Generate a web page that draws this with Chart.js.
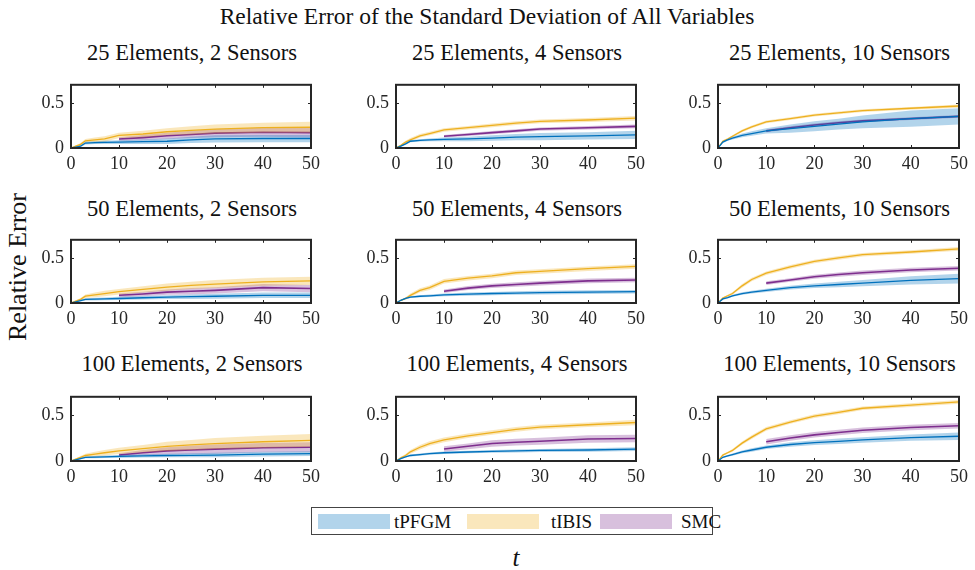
<!DOCTYPE html>
<html>
<head>
<meta charset="utf-8">
<script src="https://cdn.jsdelivr.net/npm/chart.js@4"></script>
<style>
  body { margin: 0; background: #fff; }
  #fig { position: relative; width: 975px; height: 570px; font-family: 'Liberation Serif', serif; color: #111; }
  .txt { position: absolute; white-space: nowrap; line-height: 1; transform: translate(-50%, -50%); }
  #fig canvas { position: absolute; }
  #legend { position: absolute; left: 311px; top: 507px; width: 400px; height: 26px; border: 1px solid #444; background: #fff; font-size: 19px; }
  .patch { position: absolute; top: 6px; width: 72px; height: 15px; }
  .ltext { position: absolute; top: 4px; line-height: 1; }
</style>
</head>
<body>
<div id="fig">
  <div class="txt" style="left:487px; top:17px; font-size:23.5px;">Relative Error of the Standard Deviation of All Variables</div>
  <div class="txt" style="left:18px; top:267px; font-size:26px; transform:translate(-50%,-50%) rotate(-90deg);">Relative Error</div>
  <div class="txt" style="left:516px; top:557px; font-size:25px; font-style:italic;">t</div>
  <div id="legend">
    <div class="patch" style="left:6px; background:rgba(0,114,189,0.3);"></div>
    <div class="ltext" style="left:82px;">tPFGM</div>
    <div class="patch" style="left:155px; background:rgba(237,177,32,0.3);"></div>
    <div class="ltext" style="left:239px;">tIBIS</div>
    <div class="patch" style="left:288px; background:rgba(126,47,142,0.3);"></div>
    <div class="ltext" style="left:369px;">SMC</div>
  </div>
</div>
<script>
const elementCounts = [25, 50, 100];
const sensorCounts = [2, 4, 10];
const timeSteps = [0, 1, 2, 3, 5, 7, 10, 15, 20, 25, 30, 40, 50];
const xTicks = [0, 10, 20, 30, 40, 50];
const yTicks = [0, 0.5];
const _ = null;

// mean relative error and half-width of the shaded band, per method and case
const tpfgm25e2s     = [0, 0.01, 0.02, 0.055, 0.06, 0.062, 0.065, 0.07, 0.075, 0.09, 0.10, 0.105, 0.105];
const tpfgm25e2sBand = [0, 0.005, 0.01, 0.015, 0.015, 0.018, 0.02, 0.025, 0.03, 0.035, 0.04, 0.04, 0.04];
const tibis25e2s     = [0, 0.02, 0.04, 0.08, 0.09, 0.10, 0.14, 0.155, 0.18, 0.195, 0.21, 0.225, 0.23];
const tibis25e2sBand = [0, 0.01, 0.015, 0.02, 0.025, 0.03, 0.03, 0.035, 0.04, 0.045, 0.05, 0.055, 0.06];
const smc25e2s       = [_, _, _, _, _, _, 0.10, 0.115, 0.135, 0.15, 0.165, 0.175, 0.17];
const smc25e2sBand   = [_, _, _, _, _, _, 0.02, 0.03, 0.035, 0.04, 0.045, 0.05, 0.055];

const tpfgm25e4s     = [0, 0.02, 0.045, 0.075, 0.085, 0.09, 0.095, 0.10, 0.11, 0.12, 0.125, 0.135, 0.145];
const tpfgm25e4sBand = [0, 0.005, 0.008, 0.01, 0.012, 0.015, 0.02, 0.025, 0.03, 0.035, 0.04, 0.04, 0.045];
const tibis25e4s     = [0, 0.03, 0.065, 0.09, 0.135, 0.16, 0.20, 0.225, 0.25, 0.275, 0.295, 0.31, 0.33];
const tibis25e4sBand = [0, 0.01, 0.015, 0.02, 0.02, 0.02, 0.02, 0.02, 0.02, 0.02, 0.02, 0.022, 0.025];
const smc25e4s       = [_, _, _, _, _, _, 0.13, 0.15, 0.17, 0.19, 0.21, 0.225, 0.24];
const smc25e4sBand   = [_, _, _, _, _, _, 0.015, 0.016, 0.017, 0.018, 0.018, 0.019, 0.02];

const tpfgm25e10s     = [0, 0.065, 0.09, 0.11, 0.14, 0.16, 0.19, 0.215, 0.24, 0.265, 0.29, 0.325, 0.35];
const tpfgm25e10sBand = [0, 0.01, 0.01, 0.015, 0.02, 0.025, 0.03, 0.045, 0.055, 0.06, 0.07, 0.09, 0.09];
const tibis25e10s     = [0, 0.075, 0.10, 0.13, 0.19, 0.235, 0.29, 0.325, 0.365, 0.39, 0.415, 0.44, 0.465];
const tibis25e10sBand = [0, 0.01, 0.01, 0.012, 0.015, 0.015, 0.015, 0.015, 0.015, 0.015, 0.015, 0.015, 0.018];
const smc25e10s       = [_, _, _, _, _, _, 0.19, 0.225, 0.255, 0.28, 0.30, 0.325, 0.35];
const smc25e10sBand   = [_, _, _, _, _, _, 0.015, 0.015, 0.015, 0.015, 0.015, 0.015, 0.015];

const tpfgm50e2s     = [0, 0.012, 0.025, 0.04, 0.043, 0.046, 0.05, 0.058, 0.065, 0.07, 0.075, 0.085, 0.085];
const tpfgm50e2sBand = [0, 0.004, 0.008, 0.012, 0.014, 0.016, 0.018, 0.02, 0.022, 0.025, 0.028, 0.03, 0.03];
const tibis50e2s     = [0, 0.02, 0.04, 0.075, 0.09, 0.105, 0.125, 0.15, 0.175, 0.195, 0.21, 0.235, 0.245];
const tibis50e2sBand = [0, 0.01, 0.015, 0.02, 0.025, 0.03, 0.03, 0.035, 0.04, 0.04, 0.045, 0.045, 0.045];
const smc50e2s       = [_, _, _, _, _, _, 0.085, 0.10, 0.12, 0.13, 0.14, 0.17, 0.16];
const smc50e2sBand   = [_, _, _, _, _, _, 0.02, 0.025, 0.03, 0.035, 0.035, 0.04, 0.04];

const tpfgm50e4s     = [0, 0.03, 0.05, 0.065, 0.075, 0.08, 0.09, 0.098, 0.105, 0.11, 0.115, 0.12, 0.125];
const tpfgm50e4sBand = [0, 0.005, 0.008, 0.01, 0.012, 0.014, 0.015, 0.017, 0.018, 0.019, 0.02, 0.02, 0.02];
const tibis50e4s     = [0, 0.03, 0.05, 0.085, 0.14, 0.17, 0.24, 0.275, 0.30, 0.335, 0.35, 0.38, 0.405];
const tibis50e4sBand = [0, 0.01, 0.015, 0.02, 0.022, 0.025, 0.025, 0.025, 0.025, 0.025, 0.025, 0.025, 0.025];
const smc50e4s       = [_, _, _, _, _, _, 0.13, 0.165, 0.19, 0.205, 0.22, 0.245, 0.255];
const smc50e4sBand   = [_, _, _, _, _, _, 0.02, 0.022, 0.024, 0.025, 0.025, 0.025, 0.025];

const tpfgm50e10s     = [0, 0.045, 0.06, 0.08, 0.105, 0.12, 0.14, 0.17, 0.19, 0.205, 0.22, 0.25, 0.27];
const tpfgm50e10sBand = [0, 0.008, 0.01, 0.012, 0.015, 0.015, 0.018, 0.02, 0.025, 0.03, 0.035, 0.045, 0.055];
const tibis50e10s     = [0, 0.055, 0.08, 0.105, 0.19, 0.26, 0.33, 0.40, 0.46, 0.50, 0.535, 0.565, 0.60];
const tibis50e10sBand = [0, 0.01, 0.012, 0.015, 0.02, 0.02, 0.02, 0.02, 0.02, 0.02, 0.02, 0.02, 0.02];
const smc50e10s       = [_, _, _, _, _, _, 0.22, 0.255, 0.29, 0.315, 0.335, 0.365, 0.385];
const smc50e10sBand   = [_, _, _, _, _, _, 0.02, 0.02, 0.022, 0.024, 0.025, 0.025, 0.025];

const tpfgm100e2s     = [0, 0.013, 0.027, 0.04, 0.043, 0.046, 0.05, 0.055, 0.06, 0.062, 0.065, 0.075, 0.08];
const tpfgm100e2sBand = [0, 0.005, 0.008, 0.01, 0.012, 0.014, 0.016, 0.018, 0.02, 0.022, 0.024, 0.025, 0.025];
const tibis100e2s     = [0, 0.02, 0.04, 0.06, 0.075, 0.09, 0.11, 0.135, 0.16, 0.175, 0.19, 0.21, 0.225];
const tibis100e2sBand = [0, 0.01, 0.015, 0.02, 0.025, 0.03, 0.035, 0.04, 0.05, 0.055, 0.06, 0.065, 0.07];
const smc100e2s       = [_, _, _, _, _, _, 0.065, 0.09, 0.11, 0.12, 0.13, 0.145, 0.15];
const smc100e2sBand   = [_, _, _, _, _, _, 0.02, 0.03, 0.04, 0.045, 0.05, 0.05, 0.055];

const tpfgm100e4s     = [0, 0.025, 0.045, 0.06, 0.07, 0.08, 0.09, 0.098, 0.105, 0.11, 0.115, 0.12, 0.13];
const tpfgm100e4sBand = [0, 0.005, 0.008, 0.01, 0.012, 0.012, 0.013, 0.014, 0.015, 0.016, 0.017, 0.018, 0.02];
const tibis100e4s     = [0, 0.035, 0.06, 0.10, 0.15, 0.19, 0.23, 0.275, 0.31, 0.345, 0.37, 0.395, 0.42];
const tibis100e4sBand = [0, 0.01, 0.015, 0.02, 0.025, 0.025, 0.025, 0.025, 0.025, 0.025, 0.025, 0.025, 0.03];
const smc100e4s       = [_, _, _, _, _, _, 0.13, 0.16, 0.19, 0.205, 0.215, 0.24, 0.245];
const smc100e4sBand   = [_, _, _, _, _, _, 0.03, 0.032, 0.035, 0.037, 0.038, 0.04, 0.04];

const tpfgm100e10s     = [0, 0.04, 0.055, 0.07, 0.10, 0.12, 0.15, 0.18, 0.20, 0.215, 0.23, 0.255, 0.27];
const tpfgm100e10sBand = [0, 0.008, 0.01, 0.012, 0.015, 0.018, 0.02, 0.025, 0.025, 0.03, 0.03, 0.035, 0.04];
const tibis100e10s     = [0, 0.065, 0.09, 0.115, 0.195, 0.26, 0.35, 0.425, 0.49, 0.53, 0.575, 0.61, 0.645];
const tibis100e10sBand = [0, 0.01, 0.012, 0.015, 0.018, 0.02, 0.02, 0.02, 0.02, 0.02, 0.02, 0.02, 0.02];
const smc100e10s       = [_, _, _, _, _, _, 0.21, 0.25, 0.285, 0.31, 0.335, 0.365, 0.385];
const smc100e10sBand   = [_, _, _, _, _, _, 0.03, 0.03, 0.03, 0.03, 0.03, 0.03, 0.03];

// row = element count, column = sensor count
const panelData = [
  [[tpfgm25e2s, tpfgm25e2sBand, tibis25e2s, tibis25e2sBand, smc25e2s, smc25e2sBand],
   [tpfgm25e4s, tpfgm25e4sBand, tibis25e4s, tibis25e4sBand, smc25e4s, smc25e4sBand],
   [tpfgm25e10s, tpfgm25e10sBand, tibis25e10s, tibis25e10sBand, smc25e10s, smc25e10sBand]],
  [[tpfgm50e2s, tpfgm50e2sBand, tibis50e2s, tibis50e2sBand, smc50e2s, smc50e2sBand],
   [tpfgm50e4s, tpfgm50e4sBand, tibis50e4s, tibis50e4sBand, smc50e4s, smc50e4sBand],
   [tpfgm50e10s, tpfgm50e10sBand, tibis50e10s, tibis50e10sBand, smc50e10s, smc50e10sBand]],
  [[tpfgm100e2s, tpfgm100e2sBand, tibis100e2s, tibis100e2sBand, smc100e2s, smc100e2sBand],
   [tpfgm100e4s, tpfgm100e4sBand, tibis100e4s, tibis100e4sBand, smc100e4s, smc100e4sBand],
   [tpfgm100e10s, tpfgm100e10sBand, tibis100e10s, tibis100e10sBand, smc100e10s, smc100e10sBand]]
];

const lineColors = ['#0072BD', '#EDB120', '#7E2F8E'];
const bandColors = ['rgba(0,114,189,0.3)', 'rgba(237,177,32,0.3)', 'rgba(126,47,142,0.3)'];

// plot-area edges of each column / row
const colLeft = [71, 396, 718];
const colRight = [313, 638, 961];
const rowTop = [71, 226, 383];
const rowBottom = [148, 303, 461];
const titleY = [53, 209, 364];

const yAxisW = 50, xAxisH = 26, padTop = 4, padRight = 12;
const fontFam = "'Liberation Serif', serif";

// box outline plus inward-pointing ticks on all four sides
const boxFrame = {
  id: 'boxFrame',
  afterDatasetsDraw(chart) {
    const { ctx, chartArea: a, scales: { x, y } } = chart;
    ctx.save();
    ctx.strokeStyle = '#262626';
    ctx.lineWidth = 1;
    ctx.beginPath();
    x.ticks.forEach(t => {
      const px = Math.round(x.getPixelForValue(t.value)) + 0.5;
      ctx.moveTo(px, a.bottom); ctx.lineTo(px, a.bottom - 3);
      ctx.moveTo(px, a.top); ctx.lineTo(px, a.top + 3);
    });
    y.ticks.forEach(t => {
      const py = Math.round(y.getPixelForValue(t.value)) + 0.5;
      ctx.moveTo(a.left, py); ctx.lineTo(a.left + 3, py);
      ctx.moveTo(a.right, py); ctx.lineTo(a.right - 3, py);
    });
    ctx.stroke();
    ctx.lineWidth = 2;
    ctx.strokeRect(a.left, a.top, a.right - a.left, a.bottom - a.top);
    ctx.restore();
  }
};

function seriesSets(mean, band, k) {
  const lo = timeSteps.map((t, i) => ({ x: t, y: mean[i] === null ? null : mean[i] - band[i] }));
  const hi = timeSteps.map((t, i) => ({ x: t, y: mean[i] === null ? null : mean[i] + band[i] }));
  const mid = timeSteps.map((t, i) => ({ x: t, y: mean[i] }));
  return [
    { data: lo, borderWidth: 0, pointRadius: 0, fill: false },
    { data: hi, borderWidth: 0, pointRadius: 0, fill: '-1', backgroundColor: bandColors[k] },
    { data: mid, borderColor: lineColors[k], borderWidth: k === 2 ? 1.6 : 1.3, pointRadius: 0, fill: false }
  ];
}

const fig = document.getElementById('fig');

elementCounts.forEach((ne, r) => {
  sensorCounts.forEach((ns, c) => {
    const d = panelData[r][c];
    const datasets = [
      ...seriesSets(d[0], d[1], 0),
      ...seriesSets(d[2], d[3], 1),
      ...seriesSets(d[4], d[5], 2)
    ];

    const title = document.createElement('div');
    title.className = 'txt';
    title.style.left = ((colLeft[c] + colRight[c]) / 2) + 'px';
    title.style.top = titleY[r] + 'px';
    title.style.fontSize = '22.5px';
    title.textContent = ne + ' Elements, ' + ns + ' Sensors';
    fig.appendChild(title);

    const cv = document.createElement('canvas');
    const w = colRight[c] - colLeft[c] + yAxisW + padRight;
    const h = rowBottom[r] - rowTop[r] + padTop + xAxisH;
    cv.width = w; cv.height = h;
    cv.style.left = (colLeft[c] - yAxisW) + 'px';
    cv.style.top = (rowTop[r] - padTop) + 'px';
    fig.appendChild(cv);

    new Chart(cv, {
      type: 'line',
      data: { datasets },
      plugins: [boxFrame],
      options: {
        responsive: false,
        animation: false,
        layout: { padding: { top: padTop, right: padRight, left: 0, bottom: 0 } },
        elements: { line: { tension: 0 } },
        plugins: { legend: { display: false }, tooltip: { enabled: false } },
        scales: {
          x: {
            type: 'linear',
            min: 0, max: 50,
            afterFit: s => { s.height = xAxisH; },
            afterBuildTicks: s => { s.ticks = xTicks.map(v => ({ value: v })); },
            grid: { display: false, drawTicks: false },
            border: { display: false },
            ticks: { color: '#262626', padding: 5, maxRotation: 0, font: { family: fontFam, size: 18 } }
          },
          y: {
            min: 0, max: 0.7,
            afterFit: s => { s.width = yAxisW; },
            afterBuildTicks: s => { s.ticks = yTicks.map(v => ({ value: v })); },
            grid: { display: false, drawTicks: false },
            border: { display: false },
            ticks: { color: '#262626', padding: 7, font: { family: fontFam, size: 18 } }
          }
        }
      }
    });
  });
});
</script>
</body>
</html>
